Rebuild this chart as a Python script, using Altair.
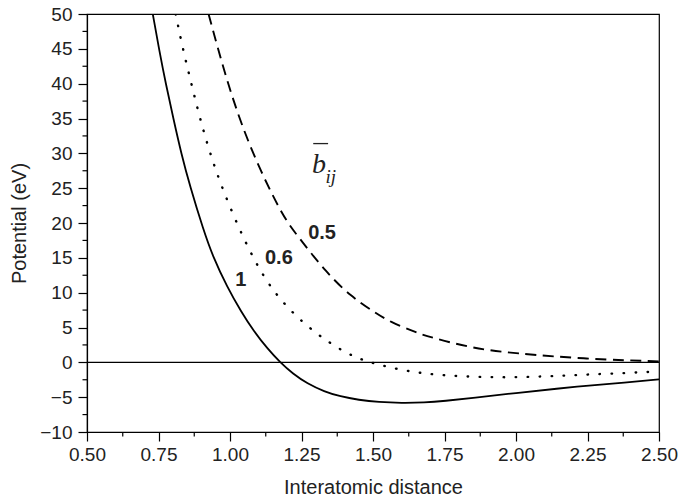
import altair as alt
import pandas as pd

# ---- data ----
r_b10 = [0.730, 0.753, 0.776, 0.802, 0.830, 0.860, 0.907, 0.940, 0.990, 1.040, 1.081, 1.130,
         1.175, 1.220, 1.270, 1.330, 1.385, 1.450, 1.520, 1.600, 1.680, 1.750, 1.850, 2.000,
         2.150, 2.250, 2.380, 2.500]
v_b10 = [50, 44.7, 39.9, 35, 29.9, 25.3, 19, 15.2, 10.8, 7.2, 4.6, 2.0,
         0, -1.65, -3.05, -4.2, -4.9, -5.4, -5.72, -5.85, -5.78, -5.55, -5.1, -4.4,
         -3.75, -3.35, -2.9, -2.45]

r_b06 = [0.810, 0.835, 0.865, 0.895, 0.930, 0.974, 1.047, 1.116, 1.181, 1.262, 1.350, 1.431,
         1.490, 1.560, 1.653, 1.750, 1.850, 1.950, 2.050, 2.150, 2.250, 2.380, 2.500]
v_b06 = [50, 45, 40, 35, 30, 24.8, 17.7, 12.3, 8.7, 5.4, 2.7, 0.8,
         0, -0.75, -1.5, -1.88, -2.08, -2.15, -2.1, -1.95, -1.75, -1.55, -1.3]

r_b05 = [0.925, 0.958, 0.993, 1.041, 1.105, 1.186, 1.233, 1.338, 1.425, 1.501, 1.559, 1.650,
         1.700, 1.851, 1.990, 2.247, 2.500]
v_b05 = [50, 45, 40, 34, 27.6, 20.9, 18.3, 12.8, 9.4, 7.3, 5.8, 4.3,
         3.6, 2.0, 1.3, 0.47, 0.14]

x_major = [0.5, 0.75, 1.0, 1.25, 1.5, 1.75, 2.0, 2.25, 2.5]
x_minor = [0.625, 0.875, 1.125, 1.375, 1.625, 1.875, 2.125, 2.375]
y_major = [-10, -5, 0, 5, 10, 15, 20, 25, 30, 35, 40, 45, 50]
y_minor = [-7.5, -2.5, 2.5, 7.5, 12.5, 17.5, 22.5, 27.5, 32.5, 37.5, 42.5, 47.5]

curve_labels = ["1", "0.6", "0.5"]
label_r = [1.038, 1.171, 1.322]
label_v = [11.8, 15.0, 18.5]

FONT = "Liberation Sans"
INK = "#222222"

def frame(rs, vs):
    return pd.DataFrame({"r": rs, "V": vs})

xscale = alt.Scale(domain=[0.5, 2.5], nice=False, zero=False)
yscale = alt.Scale(domain=[-10, 50], nice=False, zero=False)

x_axis = alt.Axis(
    values=x_major, format=".2f", tickSize=9,
    labelPadding=4, labelFlush=False, labelOverlap=False,
    labelFont=FONT, labelFontSize=19, labelColor=INK,
    title="Interatomic distance", titleFont=FONT, titleFontSize=20,
    titleFontWeight="normal", titleColor=INK,
    titleX=286, titleY=55, titleBaseline="middle", titleAlign="center",
    grid=False, domainColor="black", domainWidth=1.2, tickColor="black", tickWidth=1.2,
)
y_axis = alt.Axis(
    values=y_major, format="d", tickSize=9,
    labelPadding=6, labelFlush=False, labelOverlap=False,
    labelFont=FONT, labelFontSize=19, labelColor=INK,
    title="Potential (eV)", titleFont=FONT, titleFontSize=20,
    titleFontWeight="normal", titleColor=INK, titleAngle=270,
    titleX=-68, titleY=209, titleBaseline="middle", titleAlign="center",
    grid=False, domainColor="black", domainWidth=1.2, tickColor="black", tickWidth=1.2,
)

def X(field="r:Q"):
    return alt.X(field, scale=xscale, axis=x_axis)

def Y(field="V:Q"):
    return alt.Y(field, scale=yscale, axis=y_axis)

solid = alt.Chart(frame(r_b10, v_b10)).mark_line(
    color="black", strokeWidth=1.8, interpolate="basis", clip=True
).encode(x=X(), y=Y())
dotted = alt.Chart(frame(r_b06, v_b06)).mark_line(
    color="black", strokeWidth=2.4, strokeDash=[0.5, 11.5], strokeCap="round",
    interpolate="basis", clip=True
).encode(x=X(), y=Y())
dashed = alt.Chart(frame(r_b05, v_b05)).mark_line(
    color="black", strokeWidth=1.9, strokeDash=[11, 6.5],
    interpolate="basis", clip=True
).encode(x=X(), y=Y())

zero = alt.Chart(pd.DataFrame({"V": [0]})).mark_rule(color="black", strokeWidth=1.2).encode(
    y=Y()
)

minor_x = alt.Chart(pd.DataFrame({"r": x_minor})).mark_rule(color="black", strokeWidth=1.2).encode(
    x=X(), y=alt.value(418), y2=alt.value(422.5)
)
minor_y = alt.Chart(pd.DataFrame({"V": y_minor})).mark_rule(color="black", strokeWidth=1.2).encode(
    y=Y(), x=alt.value(-4.5), x2=alt.value(0)
)

labels = alt.Chart(pd.DataFrame({"r": label_r, "V": label_v, "t": curve_labels})).mark_text(
    font=FONT, fontSize=20, fontWeight="bold", color=INK, align="center", baseline="middle"
).encode(x=X(), y=Y(), text="t:N")

b_letter = alt.Chart(pd.DataFrame({"r": [1.287], "V": [27.2], "t": ["b"]})).mark_text(
    font="Liberation Serif", fontSize=28, fontStyle="italic", color=INK,
    align="left", baseline="alphabetic"
).encode(x=X(), y=Y(), text="t:N")
b_sub = alt.Chart(pd.DataFrame({"r": [1.334], "V": [25.8], "t": ["ij"]})).mark_text(
    font="Liberation Serif", fontSize=19, fontStyle="italic", color=INK,
    align="left", baseline="alphabetic"
).encode(x=X(), y=Y(), text="t:N")
b_bar = alt.Chart(pd.DataFrame({"r": [1.291], "r2": [1.343], "V": [31.4]})).mark_rule(
    color=INK, strokeWidth=1.3
).encode(x=X(), x2="r2:Q", y=Y())

chart = alt.layer(
    solid, dotted, dashed, zero, minor_x, minor_y, labels, b_letter, b_sub, b_bar
).properties(
    width=572, height=418,
    autosize=alt.AutoSizeParams(type="none"),
    padding={"left": 87, "top": 14, "right": 21, "bottom": 68},
    background="white",
).configure_view(stroke="black", strokeWidth=1.2)

chart.save("out.html", embed_options={"renderer": "svg", "actions": False})
